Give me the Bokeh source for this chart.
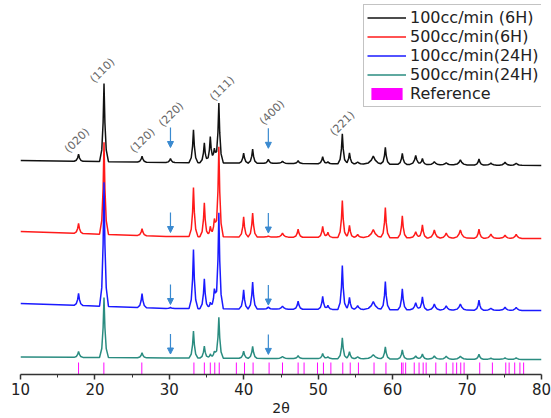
import numpy as np
from bokeh.plotting import figure
from bokeh.models import (ColumnDataSource, Range1d, Arrow, NormalHead, Legend,
                          LegendItem, FixedTicker)
from bokeh.core.properties import value
from bokeh.embed import file_html
from bokeh.resources import INLINE

# ---------------- data ----------------
series_names = ["100cc/min (6H)", "500cc/min(6H)", "100cc/min(24H)", "500cc/min(24H)"]

# peak positions (2theta) and relative breadth
peak_2theta = [17.8, 21.22, 26.33, 30.15, 33.24, 34.70, 35.5, 36.05, 36.65, 39.98,
               41.19, 43.3, 45.2, 47.3, 50.6, 51.3, 53.24, 54.2, 55.3, 57.4,
               59.02, 61.3, 63.1, 64.0, 65.6, 67.2, 69.1, 71.6, 73.2, 75.1, 76.6]
peak_breadth = [1, 1, 1, 1, 1, 1, 1, 1, 1, 1,
                1, 1, 1.3, 1, 1, 1, 1, 1, 1.3, 2.2,
                1, 1, 1.3, 1, 1.3, 1.3, 1.5, 1, 1.3, 1.3, 1.3]

# peak intensities above each pattern's own baseline (a.u.)
int_100_6h = [7, 78, 6, 4, 33, 20, 26, 14, 60, 10,
              14, 4, 2, 3, 7, 2, 30, 11, 2, 8,
              17, 11, 9, 6, 3, 2, 5, 6, 2, 3, 2]
int_500_6h = [10, 92, 7, 0, 49, 34, 10, 18, 90, 20,
              24, 1, 4, 8, 11, 5, 37, 12, 3, 8,
              30, 22, 6, 13, 8, 5, 8, 9, 4, 3, 4]
int_100_24h = [12, 124, 14, 1, 59, 30, 6, 20, 96, 19,
               27, 2, 3, 8, 13, 4, 44, 12, 4, 8,
               28, 21, 7, 13, 6, 4, 6, 10, 2, 3, 3]
int_500_24h = [6, 60, 5, 0, 27, 12, 4, 7, 41, 7,
               12, 0, 2, 3, 5, 2, 21, 7, 2, 4,
               12, 9, 3, 5, 3, 3, 3, 5, 1, 1.5, 1.5]

# baselines (vertical offsets of the stacked patterns), at 2theta = 10, 30, 80
baseline_2theta = [10, 30, 80]
base_100_6h = [214, 212, 209]
base_500_6h = [143, 138, 136]
base_100_24h = [71, 66, 64]
base_500_24h = [17.5, 16.5, 15]

# reference pattern (stick positions and intensity)
ref_2theta = [17.8, 21.2, 26.3, 33.3, 34.7, 35.5, 36.1, 36.7, 39.0, 40.1,
              41.25, 43.4, 45.2, 47.3, 48.1, 49.9, 50.7, 51.7, 53.3, 54.3,
              55.4, 57.5, 59.1, 61.2, 61.4, 61.75, 62.9, 63.55, 64.1, 64.5,
              65.8, 67.2, 68.1, 68.6, 69.15, 69.6, 71.7, 73.4, 75.2, 75.65,
              76.4, 77.1, 77.6]
ref_intensity = [12] * len(ref_2theta)

hkl_labels = ["(020)", "(110)", "(120)", "(220)", "(111)", "(400)", "(221)"]
hkl_2theta = [17.6, 21.0, 26.4, 30.25, 37.1, 43.8, 53.25]
hkl_level = [234, 304, 234, 260, 286, 262, 251]

arrow_2theta = [30.15, 43.3]

x_ticks = [10, 20, 30, 40, 50, 60, 70, 80]

# ---------------- styles ----------------
colors = ["#111111", "#ff1a1a", "#1a1aff", "#2a8c80"]
ref_color = "#ff00ff"
arrow_color = "#3a8ad0"
FONT = "DejaVu Sans"

# peak shape template (style): offsets in degrees and fraction of height
shape_off = [-0.6, -0.3, -0.12, 0.0, 0.12, 0.3, 0.6]
shape_frac = [0.0, 0.15, 0.5, 1.0, 0.5, 0.15, 0.0]


def pattern(base, heights):
    pts = {10.0, 80.0}
    for p, b in zip(peak_2theta, peak_breadth):
        for o in shape_off:
            q = p + o * b
            if 10 <= q <= 80:
                pts.add(round(q, 4))
    xs = np.array(sorted(pts))
    ys = np.interp(xs, baseline_2theta, base)
    for p, b, h in zip(peak_2theta, peak_breadth, heights):
        ys = ys + h * np.interp(xs - p, [o * b for o in shape_off], shape_frac,
                                left=0.0, right=0.0)
    return xs, ys


p = figure(width=551, height=418, output_backend="svg", toolbar_location=None,
           x_range=Range1d(10, 80), y_range=Range1d(0, 374),
           y_axis_location=None, min_border_left=20, min_border_right=10,
           min_border_top=0, min_border_bottom=44)
p.xgrid.visible = False
p.ygrid.visible = False
p.outline_line_color = None
p.background_fill_color = "white"
p.border_fill_color = "white"

renderers = []
bases = [base_100_6h, base_500_6h, base_100_24h, base_500_24h]
ints = [int_100_6h, int_500_6h, int_100_24h, int_500_24h]
for name, base, hts, col in zip(series_names, bases, ints, colors):
    xs, ys = pattern(base, hts)
    r = p.line(xs, ys, line_color=col, line_width=1.5)
    renderers.append(r)

ref_src = ColumnDataSource(dict(x=ref_2theta, top=ref_intensity))
r_ref = p.vbar(x="x", top="top", bottom=0, width=0.13, source=ref_src,
               fill_color=ref_color, line_color=None)

# arrows marking the spinel reflections
arrow_tip_gap = [15, 4, 4, 4]
for base, gap in zip(bases, arrow_tip_gap):
    for a in arrow_2theta:
        b = float(np.interp(a, baseline_2theta, base))
        p.add_layout(Arrow(end=NormalHead(size=6, fill_color=arrow_color,
                                          line_color=arrow_color),
                           x_start=a, y_start=b + gap + 20, x_end=a, y_end=b + gap,
                           line_color=arrow_color, line_width=1.2))

lab_src = ColumnDataSource(dict(x=hkl_2theta, y=hkl_level, t=hkl_labels))
p.text(x="x", y="y", text="t", source=lab_src, angle=np.pi / 4,
       text_align="center", text_baseline="middle",
       text_font=value(FONT), text_font_size="11px", text_color="#666666")

ax = p.xaxis[0]
ax.ticker = FixedTicker(ticks=x_ticks, minor_ticks=[15, 25, 35, 45, 55, 65, 75])
ax.axis_label = "2θ"
ax.axis_label_text_font = FONT
ax.axis_label_text_font_size = "14px"
ax.axis_label_text_font_style = "normal"
ax.axis_label_text_color = "#222222"
ax.axis_label_standoff = 2
ax.major_label_text_font = FONT
ax.major_label_text_font_size = "15px"
ax.major_label_text_color = "#222222"
ax.major_label_standoff = 3
ax.axis_line_color = "#333333"
ax.axis_line_width = 1.5
ax.major_tick_line_color = "#333333"
ax.major_tick_line_width = 1.5
ax.major_tick_out = 5
ax.major_tick_in = 0
ax.minor_tick_line_color = "#333333"
ax.minor_tick_out = 3
ax.minor_tick_in = 0

items = [LegendItem(label=n, renderers=[r]) for n, r in zip(series_names, renderers)]
items.append(LegendItem(label="Reference", renderers=[r_ref]))
legend = Legend(items=items, location=(343, 267))
legend.label_text_font = FONT
legend.label_text_font_size = "16px"
legend.label_text_color = "#222222"
legend.label_height = 19
legend.glyph_height = 15
legend.glyph_width = 39
legend.label_standoff = 4
legend.spacing = 0
legend.padding = 3
legend.margin = 0
legend.border_line_color = "#888888"
legend.border_line_width = 1.5
legend.background_fill_alpha = 1.0
p.add_layout(legend)

open("out.html", "w").write(file_html(p, INLINE))
